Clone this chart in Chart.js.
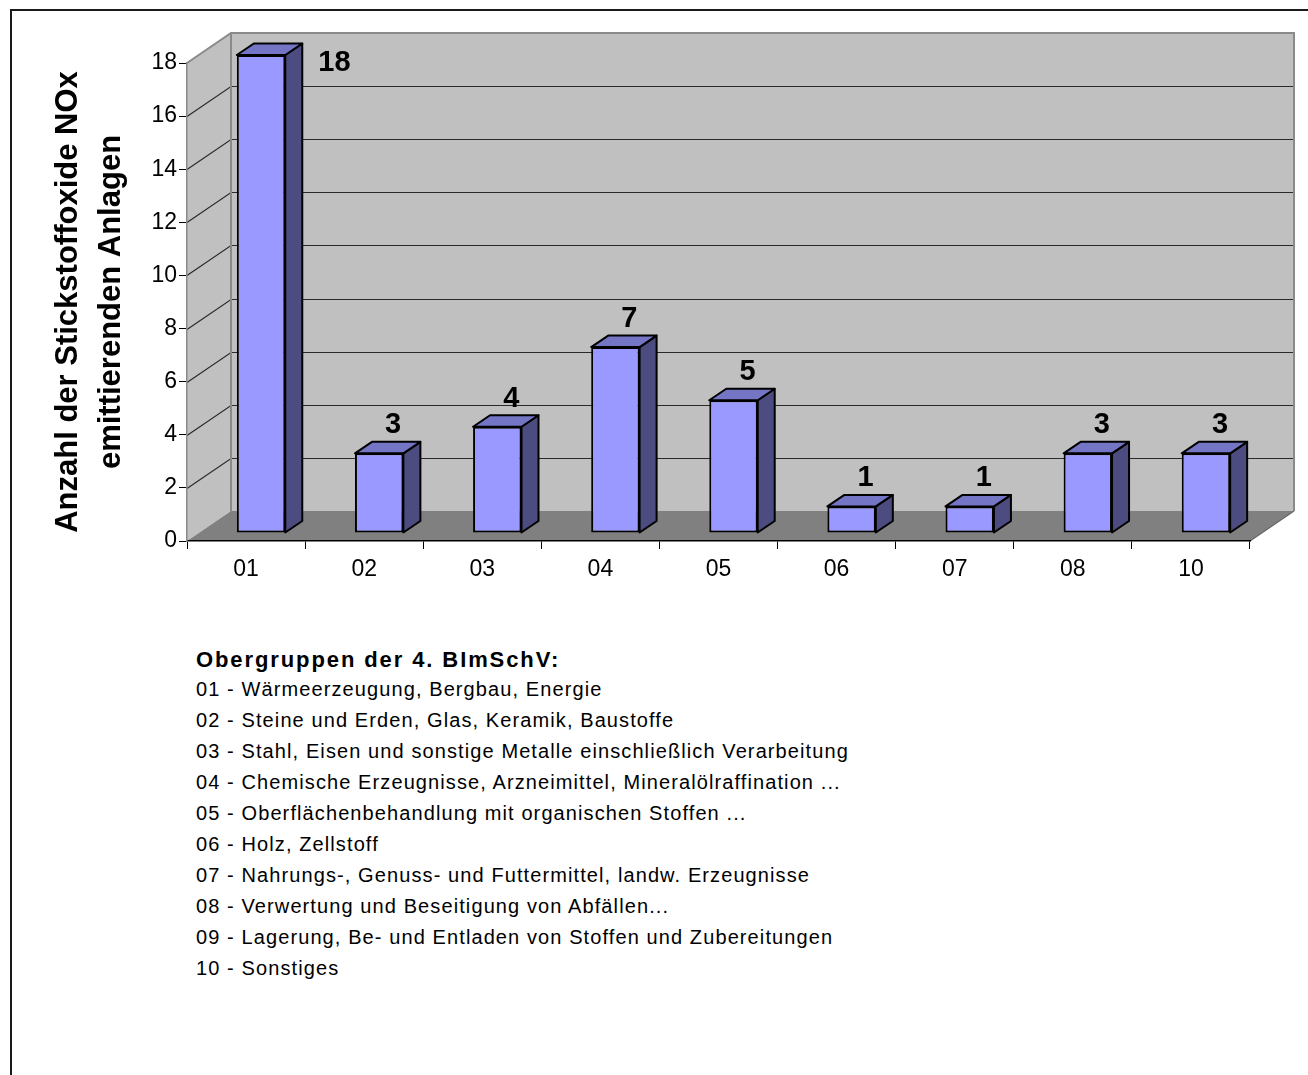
<!DOCTYPE html>
<html><head><meta charset="utf-8">
<script src="https://cdn.jsdelivr.net/npm/chart.js@4.4.1/dist/chart.umd.min.js"></script>
<style>
html,body{margin:0;padding:0;background:#fff;width:1308px;height:1075px;overflow:hidden;}
#frame{position:absolute;left:10px;top:9px;width:1400px;height:1200px;border-left:2px solid #1a1a1a;border-top:2px solid #1a1a1a;}
#c{position:absolute;left:0;top:0;}
#legend{position:absolute;left:196px;top:645px;font-family:"Liberation Sans",Arial,sans-serif;font-size:20px;color:#000;letter-spacing:1.1px;}
#legend div{height:31px;line-height:31px;white-space:nowrap;}
#legend .t{font-weight:bold;font-size:22px;height:29px;line-height:29px;letter-spacing:1.9px;}
</style></head>
<body>
<div id="frame"></div>
<canvas id="c" width="1308" height="625"></canvas>
<div id="legend"></div>
<script>
const categories = ['01','02','03','04','05','06','07','08','10'];
const counts = [18, 3, 4, 7, 5, 1, 1, 3, 3];
const yTicks = [0, 2, 4, 6, 8, 10, 12, 14, 16, 18];
const yTitle = ['Anzahl der Stickstoffoxide NOx', 'emittierenden Anlagen'];
const legendTitle = 'Obergruppen der 4. BImSchV:';
const legendItems = [
  '01 - Wärmeerzeugung, Bergbau, Energie',
  '02 - Steine und Erden, Glas, Keramik, Baustoffe',
  '03 - Stahl, Eisen und sonstige Metalle einschließlich Verarbeitung',
  '04 - Chemische Erzeugnisse, Arzneimittel, Mineralölraffination ...',
  '05 - Oberflächenbehandlung mit organischen Stoffen ...',
  '06 - Holz, Zellstoff',
  '07 - Nahrungs-, Genuss- und Futtermittel, landw. Erzeugnisse',
  '08 - Verwertung und Beseitigung von Abfällen...',
  '09 - Lagerung, Be- und Entladen von Stoffen und Zubereitungen',
  '10 - Sonstiges'
];

// legend block
const lg = document.getElementById('legend');
const t = document.createElement('div'); t.className = 't'; t.textContent = legendTitle; lg.appendChild(t);
legendItems.forEach(s => { const d = document.createElement('div'); d.textContent = s; lg.appendChild(d); });

const FAM = '"Liberation Sans", Arial, sans-serif';
// 3D geometry (style constants)
const DX = 44, DY = -30;      // wall depth
const BX = 15, BY = -8;       // bar front offset inside depth
const SDX = 17, SDY = -11.5;  // bar depth

function poly(ctx, pts, fill, stroke, lw) {
  ctx.beginPath();
  ctx.moveTo(pts[0][0], pts[0][1]);
  for (let i = 1; i < pts.length; i++) ctx.lineTo(pts[i][0], pts[i][1]);
  ctx.closePath();
  if (fill) { ctx.fillStyle = fill; ctx.fill(); }
  if (stroke) { ctx.strokeStyle = stroke; ctx.lineWidth = lw || 1; ctx.stroke(); }
}

const threeD = {
  id: 'threeD',
  beforeDraw(chart) {
    const { ctx, chartArea: a, scales: { y } } = chart;
    const L = a.left, R = a.right, y0 = y.getPixelForValue(0), yT = y.getPixelForValue(y.max);
    ctx.save();
    poly(ctx, [[L, yT], [L + DX, yT + DY], [L + DX, y0 + DY], [L, y0]], '#c0c0c0');
    poly(ctx, [[L + DX, yT + DY], [R + DX, yT + DY], [R + DX, y0 + DY], [L + DX, y0 + DY]], '#c0c0c0');
    poly(ctx, [[L, y0], [R, y0], [R + DX, y0 + DY], [L + DX, y0 + DY]], '#808080');
    ctx.lineWidth = 1.2;
    yTicks.forEach(v => {
      if (v <= 0 || v >= y.max) return;
      const py = Math.round(y.getPixelForValue(v)) + 0.5;
      ctx.strokeStyle = '#2a2a2a';
      ctx.beginPath(); ctx.moveTo(L, py); ctx.lineTo(L + DX, py + DY); ctx.lineTo(R + DX, py + DY); ctx.stroke();
    });
    ctx.strokeStyle = '#8a8a8a'; ctx.lineWidth = 2;
    ctx.beginPath();
    ctx.moveTo(L, yT); ctx.lineTo(L + DX, yT + DY); ctx.lineTo(R + DX, yT + DY); ctx.lineTo(R + DX, y0 + DY);
    ctx.moveTo(L + DX, yT + DY); ctx.lineTo(L + DX, y0 + DY);
    ctx.stroke();
    ctx.strokeStyle = '#666'; ctx.lineWidth = 1.2;
    ctx.beginPath(); ctx.moveTo(R, y0); ctx.lineTo(R + DX, y0 + DY); ctx.stroke();
    ctx.restore();
  },
  beforeDatasetsDraw(chart) { chart.ctx.save(); chart.ctx.translate(BX, BY); },
  afterDatasetsDraw(chart) {
    const ctx = chart.ctx;
    const meta = chart.getDatasetMeta(0);
    ctx.lineJoin = 'round';
    meta.data.forEach(bar => {
      const { x, y, base, width } = bar.getProps(['x', 'y', 'base', 'width'], true);
      const l = x - width / 2, r = x + width / 2;
      poly(ctx, [[r, y], [r + SDX, y + SDY], [r + SDX, base + SDY], [r, base]], '#4c4c80', '#000', 2);
      poly(ctx, [[l, y], [l + SDX, y + SDY], [r + SDX, y + SDY], [r, y]], '#7575c5', '#000', 2);
    });
    ctx.restore();
  },
  afterDraw(chart) {
    const { ctx, scales: { y: ys } } = chart;
    const wallTop = ys.getPixelForValue(ys.max) + DY;
    const meta = chart.getDatasetMeta(0);
    ctx.save();
    ctx.font = 'bold 29px ' + FAM;
    ctx.fillStyle = '#000';
    ctx.textBaseline = 'alphabetic';
    meta.data.forEach((bar, i) => {
      const { x, y, width } = bar.getProps(['x', 'y', 'width'], true);
      const txt = String(counts[i]);
      const bl = y + BY - 20;
      if (bl - 21 < wallTop) {
        ctx.textAlign = 'left';
        ctx.fillText(txt, x + width / 2 + BX + SDX + 16, y + BY + 16);
      } else {
        ctx.textAlign = 'center';
        ctx.fillText(txt, x + BX + 14, bl);
      }
    });
    ctx.restore();
  }
};

new Chart(document.getElementById('c').getContext('2d'), {
  type: 'bar',
  data: {
    labels: categories,
    datasets: [{
      data: counts,
      backgroundColor: '#9999ff',
      borderColor: '#000',
      borderWidth: 2,
      borderSkipped: false,
      barPercentage: 0.41,
      categoryPercentage: 1,
      clip: false
    }]
  },
  options: {
    responsive: false,
    animation: false,
    layout: { padding: { left: 0, right: 58, top: 63, bottom: 0 } },
    plugins: { legend: { display: false }, tooltip: { enabled: false } },
    scales: {
      x: {
        offset: true,
        grid: { offset: true, drawOnChartArea: false, drawTicks: true, tickLength: 8, color: '#000', lineWidth: 1 },
        border: { display: true, color: '#000', width: 1.5 },
        ticks: { font: { size: 23, family: FAM }, color: '#000', padding: 7, maxRotation: 0 },
        afterFit(s) { s.height = 84; }
      },
      y: {
        min: 0, max: 18,
        afterBuildTicks(s) { s.ticks = yTicks.map(v => ({ value: v })); },
        ticks: { font: { size: 23, family: FAM }, color: '#000', padding: 2 },
        grid: { drawOnChartArea: false, drawTicks: true, tickLength: 8, color: '#000' },
        border: { display: true, color: '#8a8a8a', width: 1.5 },
        title: {
          display: true, text: yTitle, color: '#000',
          font: { size: 31, weight: 'bold', family: FAM, lineHeight: 1.39 },
          padding: { top: 47, bottom: 0 }
        },
        afterFit(s) { s.width = 187; }
      }
    }
  },
  plugins: [threeD]
});
</script>
</body></html>
